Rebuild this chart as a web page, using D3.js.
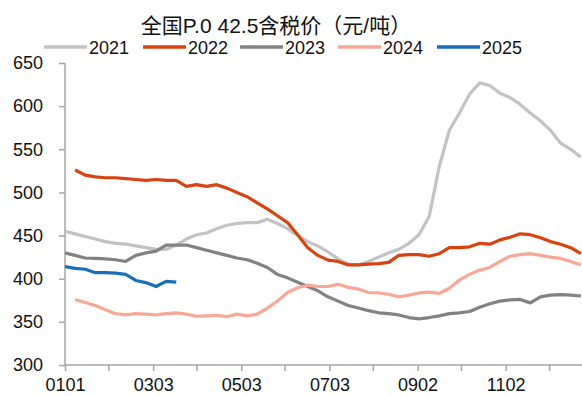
<!DOCTYPE html>
<html>
<head>
<meta charset="utf-8">
<script src="https://cdn.jsdelivr.net/npm/d3@7"></script>
<style>
  html, body { margin: 0; padding: 0; background: #fff; }
  svg { display: block; }
  text { font-family: "Liberation Sans", Arial, "Noto Sans CJK SC", sans-serif; fill: #111; }
</style>
</head>
<body>
<svg id="chart" width="582" height="396"></svg>
<script>
// Weekly sample dates (MMDD), shared by all years
const weeks = ["0101","0108","0115","0122","0129","0205","0212","0219","0226","0305",
  "0312","0319","0326","0402","0409","0416","0423","0430","0507","0514",
  "0521","0528","0604","0611","0618","0625","0702","0709","0716","0723",
  "0730","0806","0813","0820","0827","0903","0910","0917","0924","1001",
  "1008","1015","1022","1029","1105","1112","1119","1126","1203","1210",
  "1217","1224"];

// Price series (yuan/ton), one value per week, null = no data
const values2021 = [455,452,449,446,443,441,440,438,436,434,
  434,439,446,451,453,458,462,464,465,465,
  469,464,458,450,443,438,431,423,417,416,
  420,425,430,434,441,451,472,530,572,592,
  614,627,624,615,610,602,592,583,572,557,
  550,541];
const values2022 = [null,526,520,518,517,517,516,515,514,515,
  514,514,507,509,507,509,505,500,495,488,
  481,473,465,451,436,427,421.5,420,416,416,
  417,417.5,419,427,428,428,426,429,436,436,
  437,441,440,445,448,452,451,447.5,443,440,
  436,429];
const values2023 = [430,427,424,423.5,423,422,420,427,430,432,
  439,439,439,436,433,430,427,424,422,418,
  413,405,401,396,391,386,379,374,369,366,
  363,360.5,359.5,358,355,353.5,355,357,359.5,360.5,
  362,367,371,374,375.5,376,372,379,381,381.5,
  381,380];
const values2024 = [null,376,372.5,369,364,359.5,358,359.5,359,358,
  359.5,360.5,359,356.5,357,357.5,356,359,357,359,
  366,374,384,389.5,392.5,391,391,393.5,390,388,
  384,383.5,382,379,381,383.5,384.5,383,389,398.5,
  405,410,413,420,426,428,429,427,425,423.5,
  420,416];
const values2025 = [414,412,411,407,407,406.5,405,398,395.5,391,
  397,396];

const years = ["2021","2022","2023","2024","2025"];
const colors = ["#c3c3c3","#d8430f","#828282","#f9a896","#1a6fbd"];
const seriesValues = [values2021, values2022, values2023, values2024, values2025];

// Axis ticks
const xTickDates = ["0101","0131","0303","0402","0503","0602","0703","0802","0902","1002","1102","1202"];
const xTickLabels = ["0101","0303","0503","0703","0902","1102"];
const yTicks = [300,350,400,450,500,550,600,650];

const title = "全国P.0 42.5含税价（元/吨）";

const svg = d3.select("#chart");
const parseMD = s => new Date(2021, +s.slice(0, 2) - 1, +s.slice(2));

const x = d3.scaleTime()
  .domain([new Date(2021, 0, 1), new Date(2022, 0, 1)])
  .range([65, 65 + 365 * 1.445]);
const y = d3.scaleLinear().domain([300, 650]).range([365, 63]);

const axisColor = "#a6a6a6";

// Y axis
const yAxis = svg.append("g")
  .attr("transform", "translate(65,0)")
  .call(d3.axisLeft(y).tickValues(yTicks).tickSize(6).tickPadding(16).tickFormat(d3.format("d")));
yAxis.select(".domain").attr("stroke", axisColor).attr("stroke-width", 1.5).attr("d", "M0,365V63");
yAxis.selectAll(".tick line").attr("stroke", axisColor).attr("stroke-width", 1.5);
yAxis.selectAll(".tick text").attr("font-size", 18).attr("fill", "#111");

// X axis
const xAxis = svg.append("g")
  .attr("transform", "translate(0,365)")
  .call(d3.axisBottom(x)
    .tickValues(xTickDates.map(parseMD))
    .tickSize(6).tickPadding(7)
    .tickFormat(d => {
      const s = d3.timeFormat("%m%d")(d);
      return xTickLabels.includes(s) ? s : "";
    }));
xAxis.select(".domain").attr("stroke", axisColor).attr("stroke-width", 1.5).attr("d", "M65,0H600");
xAxis.selectAll(".tick line").attr("stroke", axisColor).attr("stroke-width", 1.5);
xAxis.selectAll(".tick text").attr("font-size", 18).attr("fill", "#111");

// Lines
const line = d3.line()
  .defined(d => d.v != null)
  .x(d => x(parseMD(d.date)))
  .y(d => y(d.v));

years.forEach((yr, i) => {
  const data = seriesValues[i].map((v, j) => ({ date: weeks[j], v }));
  svg.append("path")
    .datum(data)
    .attr("fill", "none")
    .attr("stroke", colors[i])
    .attr("stroke-width", 3.2)
    .attr("stroke-linejoin", "round")
    .attr("d", line);
});

// Title
svg.append("text")
  .attr("x", 276).attr("y", 33)
  .attr("text-anchor", "middle")
  .attr("font-size", 21)
  .style("font-family", "'Liberation Sans', 'Noto Sans CJK SC', sans-serif")
  .text(title);

// Legend
const legendX = [44, 143, 240, 338, 437];
const legend = svg.append("g");
years.forEach((yr, i) => {
  const g = legend.append("g").attr("transform", `translate(${legendX[i]},47)`);
  g.append("line").attr("x1", 0).attr("x2", 43).attr("y1", 0).attr("y2", 0)
    .attr("stroke", colors[i]).attr("stroke-width", 3.5);
  g.append("text").attr("x", 45).attr("y", 7).attr("font-size", 18).text(yr);
});
</script>
</body>
</html>
